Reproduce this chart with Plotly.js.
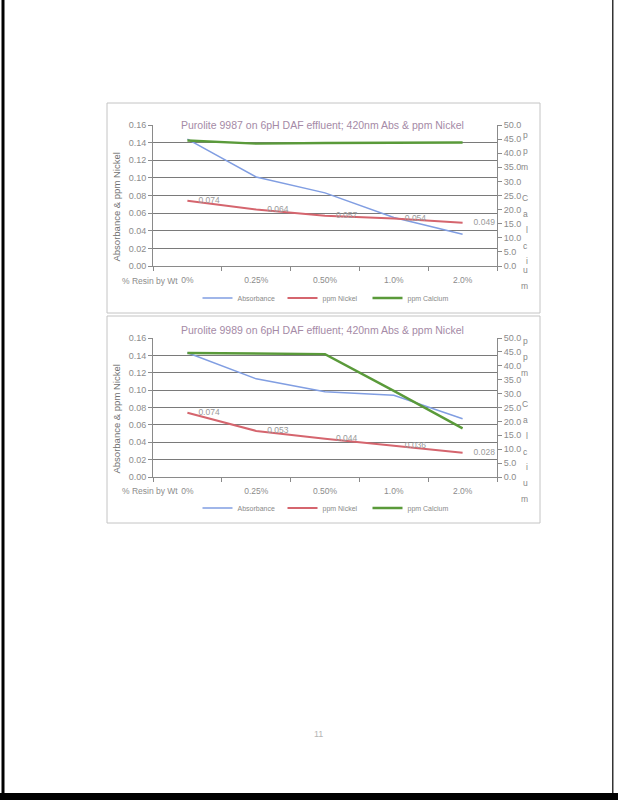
<!DOCTYPE html>
<html>
<head>
<meta charset="utf-8">
<script src="https://cdn.plot.ly/plotly-3.0.1.min.js"></script>
<style>
html,body{margin:0;padding:0;background:#fff;overflow:hidden;}
#page{width:618px;height:800px;}
</style>
</head>
<body>
<div id="page"></div>
<script>
// ---- data ----
var categories = ["0%", "0.25%", "0.50%", "1.0%", "2.0%"];
var chart1Title = "Purolite 9987 on 6pH DAF effluent; 420nm Abs & ppm Nickel";
var chart2Title = "Purolite 9989 on 6pH DAF effluent; 420nm Abs & ppm Nickel";
var abs1 = [0.144, 0.101, 0.083, 0.055, 0.036];
var nickel1 = [0.074, 0.064, 0.057, 0.054, 0.049];
var calcium1 = [44.5, 43.4, 43.6, 43.8, 43.8];
var abs2 = [0.143, 0.113, 0.098, 0.094, 0.067];
var nickel2 = [0.074, 0.053, 0.044, 0.036, 0.028];
var calcium2 = [44.6, 44.3, 44.2, 31.0, 17.5];
var seriesNames = ["Absorbance", "ppm Nickel", "ppm Calcium"];
var xAxisLabel = "% Resin by Wt";
var leftAxisTitle = "Absorbance & ppm Nickel";
var rightAxisTitle = "ppm Calcium";
var pageNumber = "11";

// ---- layout helpers ----
var W = 618, H = 800;
function px(x){ return x / W; }
function py(y){ return 1 - y / H; }

var blue = "#819ee2", red = "#d5656e", green = "#5a9a3a";
var tickGray = "#8c8c8c";
var font = "Liberation Sans, Arial, sans-serif";

function lbl(arr){ return arr.map(function(v){ return v.toFixed(3); }); }

var labelFont = {size: 8.5, color: "#9a9a9a", family: font};
var hiddenMarker = {size: 16, color: "rgba(0,0,0,0)", line: {width: 0, color: "rgba(0,0,0,0)"}};
var traces = [
  {x: categories, y: abs1, name: seriesNames[0], type: "scatter", mode: "lines",
   line: {color: blue, width: 1.5}, xaxis: "x", yaxis: "y", legend: "legend"},
  {x: categories, y: nickel1, name: seriesNames[1], type: "scatter", mode: "lines+markers+text",
   marker: hiddenMarker, text: lbl(nickel1), textposition: "middle right", textfont: labelFont,
   line: {color: red, width: 2}, xaxis: "x", yaxis: "y", legend: "legend"},
  {x: categories, y: calcium1, name: seriesNames[2], type: "scatter", mode: "lines",
   line: {color: green, width: 2.4}, xaxis: "x", yaxis: "y2", legend: "legend"},
  {x: categories, y: abs2, name: seriesNames[0], type: "scatter", mode: "lines",
   line: {color: blue, width: 1.5}, xaxis: "x2", yaxis: "y3", legend: "legend2"},
  {x: categories, y: nickel2, name: seriesNames[1], type: "scatter", mode: "lines+markers+text",
   marker: hiddenMarker, text: lbl(nickel2), textposition: "middle right", textfont: labelFont,
   line: {color: red, width: 2}, xaxis: "x2", yaxis: "y3", legend: "legend2"},
  {x: categories, y: calcium2, name: seriesNames[2], type: "scatter", mode: "lines",
   line: {color: green, width: 2.4}, xaxis: "x2", yaxis: "y4", legend: "legend2"}
];

var plotL = 153, plotR = 497;
var c1Top = 125, c1Bot = 266, c2Top = 338, c2Bot = 477;
var boxL = 107, boxR = 540;

function xax(anchor){
  return {domain: [px(plotL), px(plotR)], anchor: anchor, type: "category",
    categoryorder: "array", categoryarray: categories, range: [-0.5, 4.5], autorange: false,
    showline: true, linecolor: "#8a8a8a", linewidth: 1, ticks: "outside", tickson: "boundaries",
    ticklen: 4, tickcolor: "#8a8a8a", showgrid: false, zeroline: false, ticklabelstandoff: 6,
    tickfont: {size: 8.5, color: tickGray, family: font}, fixedrange: true};
}
function yleft(top, bot, anchor){
  return {domain: [py(bot), py(top)], anchor: anchor, range: [0, 0.16], autorange: false, dtick: 0.02, tickformat: ".2f",
    showline: true, linecolor: "#8a8a8a", ticks: "outside", ticklen: 4, tickcolor: "#8a8a8a",
    showgrid: true, gridcolor: "#7a7a7a", gridwidth: 1, zeroline: false,
    tickfont: {size: 9, color: tickGray, family: font}};
}
function yright(over, anchor){
  return {overlaying: over, side: "right", anchor: anchor, range: [0, 50], autorange: false, dtick: 5, tickformat: ".1f",
    showline: true, linecolor: "#8a8a8a", ticks: "outside", ticklen: 4, tickcolor: "#8a8a8a",
    showgrid: false, zeroline: false, tickfont: {size: 9, color: tickGray, family: font}};
}

var annotations = [];
function addChartText(title, titleY, top, bot, xlabY){
  annotations.push({text: title, x: px(323), y: py(titleY), xref: "paper", yref: "paper",
    showarrow: false, font: {size: 10.5, color: "#a58aa6", family: font}});
  annotations.push({text: leftAxisTitle, x: px(116), y: py((top + bot) / 2 + 12), xref: "paper", yref: "paper",
    xanchor: "center", yanchor: "middle",
    showarrow: false, textangle: -90, font: {size: 9.5, color: "#707070", family: font}});
  annotations.push({text: xAxisLabel, x: px(180), y: py(xlabY), xref: "paper", yref: "paper",
    xanchor: "right", yanchor: "middle", showarrow: false, font: {size: 8.5, color: tickGray, family: font}});
  var letters = rightAxisTitle.split("");
  var step = 15.8;
  for (var i = 0; i < letters.length; i++){
    if (letters[i] === " ") continue;
    annotations.push({text: letters[i], x: px(530), y: py(top + 3 + i * step), xref: "paper", yref: "paper",
      showarrow: false, font: {size: 8.5, color: "#888", family: font}});
  }
}
addChartText(chart1Title, 117, c1Top, c1Bot, 281);
addChartText(chart2Title, 330, c2Top, c2Bot, 491);
annotations.push({text: pageNumber, x: px(318), y: py(741), xref: "paper", yref: "paper",
  showarrow: false, font: {size: 9, color: "#b5b5b5", family: font}});

var shapes = [
  {type: "rect", xref: "paper", yref: "paper", x0: px(boxL), x1: px(boxR), y0: py(313), y1: py(103),
   line: {color: "#c4c4c4", width: 1}},
  {type: "rect", xref: "paper", yref: "paper", x0: px(boxL), x1: px(boxR), y0: py(523), y1: py(316),
   line: {color: "#c4c4c4", width: 1}},
  {type: "rect", xref: "paper", yref: "paper", x0: px(1.5), x1: px(4.5), y0: 0, y1: 1,
   fillcolor: "#000", line: {width: 0}},
  {type: "rect", xref: "paper", yref: "paper", x0: px(612), x1: px(613.5), y0: py(793), y1: 1,
   fillcolor: "#333", line: {width: 0}},
  {type: "rect", xref: "paper", yref: "paper", x0: 0, x1: 1, y0: 0, y1: py(793),
   fillcolor: "#000", line: {width: 0}}
];

var legendBase = {orientation: "h", xref: "paper", yref: "paper", xanchor: "center", yanchor: "middle",
  font: {size: 7, color: "#8a8a8a", family: font}, bgcolor: "rgba(0,0,0,0)",
  entrywidth: 40, entrywidthmode: "pixels", itemwidth: 30, tracegroupgap: 0};

var layout = {
  width: W, height: H, margin: {l: 0, r: 0, t: 0, b: 0},
  paper_bgcolor: "#fff", plot_bgcolor: "rgba(0,0,0,0)",
  showlegend: true,
  xaxis: xax("y"), yaxis: yleft(c1Top, c1Bot, "x"), yaxis2: yright("y", "x"),
  xaxis2: xax("y3"), yaxis3: yleft(c2Top, c2Bot, "x2"), yaxis4: yright("y3", "x2"),
  legend: Object.assign({}, legendBase, {x: px(325), y: py(298)}),
  legend2: Object.assign({}, legendBase, {x: px(325), y: py(508)}),
  annotations: annotations, shapes: shapes
};

Plotly.newPlot("page", traces, layout, {staticPlot: true, displayModeBar: false});
</script>
</body>
</html>
